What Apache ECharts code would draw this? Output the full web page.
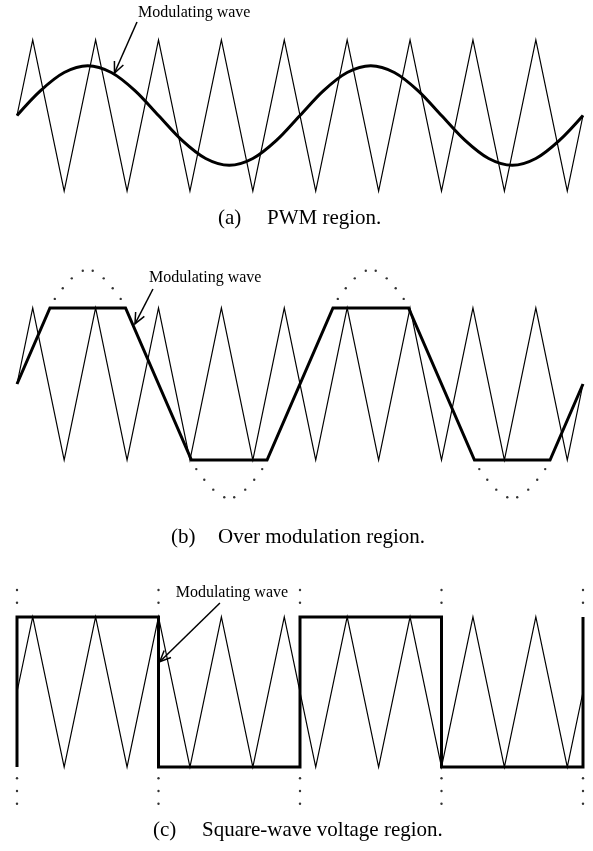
<!DOCTYPE html>
<html>
<head>
<meta charset="utf-8">
<script src="https://cdn.jsdelivr.net/npm/echarts@6/dist/echarts.min.js"></script>
<style>
  html, body { margin: 0; padding: 0; background: #ffffff; }
  #chart { width: 593px; height: 851px; }
</style>
</head>
<body>
<div id="chart"></div>
<script>
// x is measured in carrier periods, y is normalised to the carrier peak (±1)

// Triangular carrier, shared by all three panels
const carrierX = [0, 0.25, 0.75, 1.25, 1.75, 2.25, 2.75, 3.25, 3.75, 4.25, 4.75, 5.25, 5.75, 6.25, 6.75, 7.25, 7.75, 8.25, 8.75, 9];
const carrierY = [0, 1, -1, 1, -1, 1, -1, 1, -1, 1, -1, 1, -1, 1, -1, 1, -1, 1, -1, 0];

// (a) sinusoidal modulating wave, sampled every 30 degrees
const sineX = [0, 0.375, 0.75, 1.125, 1.5, 1.875, 2.25, 2.625, 3, 3.375, 3.75, 4.125, 4.5,
               4.875, 5.25, 5.625, 6, 6.375, 6.75, 7.125, 7.5, 7.875, 8.25, 8.625, 9];
const sineY = [0, 0.33, 0.57, 0.66, 0.57, 0.33, 0, -0.33, -0.57, -0.66, -0.57, -0.33, 0,
               0.33, 0.57, 0.66, 0.57, 0.33, 0, -0.33, -0.57, -0.66, -0.57, -0.33, 0];

// (b) over-modulated wave, limited to the carrier peak
const overX = [0, 0.524, 1.726, 2.774, 3.976, 5.024, 6.226, 7.274, 8.476, 9];
const overY = [0, 1, 1, -1, -1, 1, 1, -1, -1, 0];
// (b) dotted remainder of the sine above / below the limit
const overDotX = [0.601, 0.728, 0.871, 1.046, 1.204, 1.379, 1.522, 1.649,
                  2.851, 2.978, 3.121, 3.296, 3.454, 3.629, 3.772, 3.899,
                  5.101, 5.228, 5.371, 5.546, 5.704, 5.879, 6.022, 6.149,
                  7.351, 7.478, 7.621, 7.796, 7.954, 8.129, 8.272, 8.399];
const overDotY = [1.12, 1.26, 1.39, 1.49, 1.49, 1.39, 1.26, 1.12,
                  -1.12, -1.26, -1.39, -1.49, -1.49, -1.39, -1.26, -1.12,
                  1.12, 1.26, 1.39, 1.49, 1.49, 1.39, 1.26, 1.12,
                  -1.12, -1.26, -1.39, -1.49, -1.49, -1.39, -1.26, -1.12];

// (c) square wave
const squareX = [0, 0, 2.25, 2.25, 4.5, 4.5, 6.75, 6.75, 9, 9];
const squareY = [-1, 1, 1, -1, -1, 1, 1, -1, -1, 1];
// (c) dotted marks at each switching edge
const edgeX = [0, 2.25, 4.5, 6.75, 9];
const edgeDotY = [1.36, 1.19, -1.15, -1.32, -1.49];

const captions = [
  ['(a)', 'PWM region.'],
  ['(b)', 'Over modulation region.'],
  ['(c)', 'Square-wave voltage region.']
];
const waveLabel = 'Modulating wave';

const zip = (xs, ys) => xs.map((x, i) => [x, ys[i]]);
const edgeDots = [];
edgeX.forEach(x => edgeDotY.forEach(y => edgeDots.push([x, y])));

const SERIF = '"Liberation Serif", "Times New Roman", serif';
const INK = '#000000';

const grids = [
  { left: 17, width: 566, top: 40, height: 151 },
  { left: 17, width: 566, top: 308, height: 152 },
  { left: 17, width: 566, top: 617, height: 150 }
];

function thin(gi, data) {
  return {
    type: 'line', xAxisIndex: gi, yAxisIndex: gi, data, showSymbol: false, clip: false,
    silent: true, lineStyle: { color: INK, width: 1.2, join: 'miter', cap: 'butt' }
  };
}
function bold(gi, data, smooth) {
  return {
    type: 'line', xAxisIndex: gi, yAxisIndex: gi, data, showSymbol: false, clip: false,
    silent: true, smooth: smooth || false, z: 3,
    lineStyle: { color: INK, width: 3, join: 'miter', cap: 'butt' }
  };
}
function dots(gi, data) {
  return {
    type: 'scatter', xAxisIndex: gi, yAxisIndex: gi, data, clip: false, silent: true,
    symbol: 'circle', symbolSize: 2.4, itemStyle: { color: INK }
  };
}

const chart = echarts.init(document.getElementById('chart'), null, { renderer: 'canvas' });
const carrier = zip(carrierX, carrierY);

chart.setOption({
  backgroundColor: '#ffffff',
  animation: false,
  grid: grids.map(g => Object.assign({ outerBoundsMode: 'none', containLabel: false }, g)),
  xAxis: grids.map((g, i) => ({ type: 'value', gridIndex: i, min: 0, max: 9, show: false })),
  yAxis: grids.map((g, i) => ({ type: 'value', gridIndex: i, min: -1, max: 1, show: false })),
  series: [
    thin(0, carrier),
    bold(0, zip(sineX, sineY), 0.34),
    thin(1, carrier),
    bold(1, zip(overX, overY)),
    dots(1, zip(overDotX, overDotY)),
    thin(2, carrier),
    bold(2, zip(squareX, squareY)),
    dots(2, edgeDots)
  ]
});

// Callouts: label anchor, arrow tail and arrow tip in each panel's data space
const callouts = [
  { gi: 0, label: [1.924, 1.358], tail: [1.908, 1.238], tip: [1.55, 0.563] },
  { gi: 1, label: [2.099, 1.395], tail: [2.162, 1.25], tip: [1.876, 0.79] },
  { gi: 2, label: [2.523, 1.32], tail: [3.227, 1.187], tip: [2.27, 0.404] }
];
// Caption rows: vertical centre, left of tag, left of text
const captionRows = [
  { y: 218, tagX: 218, textX: 267 },
  { y: 537, tagX: 171, textX: 218 },
  { y: 830, tagX: 153, textX: 202 }
];

const graphics = [];
callouts.forEach(c => {
  const px = p => chart.convertToPixel({ gridIndex: c.gi }, p);
  const lab = px(c.label), a = px(c.tail), b = px(c.tip);
  graphics.push({
    type: 'text', x: lab[0], y: lab[1], silent: true,
    style: { text: waveLabel, fill: INK, font: '16px ' + SERIF, textAlign: 'left', textVerticalAlign: 'middle' }
  });
  graphics.push({
    type: 'line', silent: true,
    shape: { x1: a[0], y1: a[1], x2: b[0], y2: b[1] },
    style: { stroke: INK, lineWidth: 1.5 }
  });
  const dx = b[0] - a[0], dy = b[1] - a[1];
  const len = Math.hypot(dx, dy), ux = dx / len, uy = dy / len;
  const L = 12, ang = 0.42;
  const arm = s => {
    const c0 = Math.cos(s * ang), s0 = Math.sin(s * ang);
    const rx = ux * c0 - uy * s0, ry = ux * s0 + uy * c0;
    return [b[0] - rx * L, b[1] - ry * L];
  };
  graphics.push({
    type: 'polyline', silent: true,
    shape: { points: [arm(1), b, arm(-1)] },
    style: { stroke: INK, lineWidth: 1.5, fill: null }
  });
});
captionRows.forEach((r, i) => {
  graphics.push({
    type: 'text', x: r.tagX, y: r.y, silent: true,
    style: { text: captions[i][0], fill: INK, font: '21px ' + SERIF, textAlign: 'left', textVerticalAlign: 'middle' }
  });
  graphics.push({
    type: 'text', x: r.textX, y: r.y, silent: true,
    style: { text: captions[i][1], fill: INK, font: '21px ' + SERIF, textAlign: 'left', textVerticalAlign: 'middle' }
  });
});
chart.setOption({ graphic: graphics });
</script>
</body>
</html>
